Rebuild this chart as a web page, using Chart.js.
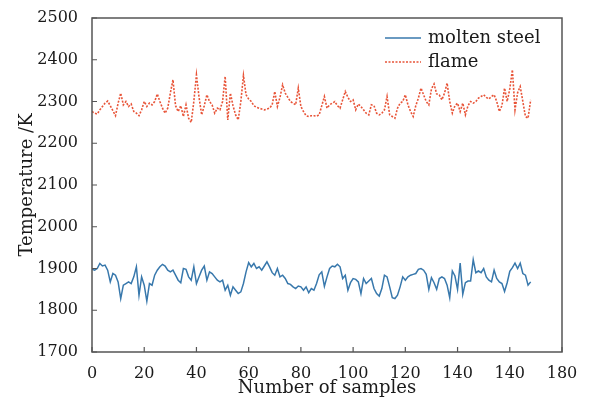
<!DOCTYPE html>
<html>
<head>
<meta charset="utf-8">
<script src="https://cdn.jsdelivr.net/npm/chart.js@4.4.0/dist/chart.umd.min.js"></script>
<style>
  html, body { margin: 0; padding: 0; background: #fff; }
  #wrap { width: 590px; height: 399px; }
</style>
</head>
<body>
<div id="wrap"><canvas id="myChart" width="590" height="399"></canvas></div>
<script>
const xTickLabels = ["0", "20", "40", "60", "80", "100", "120", "140", "140", "180"];

const steel = [
  1898, 1896, 1900, 1912, 1906, 1908, 1896, 1868, 1888, 1884,
  1868, 1828, 1860, 1864, 1868, 1864, 1880, 1904, 1836, 1880,
  1860, 1822, 1864, 1860, 1884, 1896, 1904, 1910, 1906, 1896,
  1892, 1896, 1884, 1872, 1866, 1900, 1898, 1880, 1872, 1904,
  1864, 1880, 1896, 1906, 1872, 1892, 1888, 1880, 1872, 1868,
  1872, 1848, 1860, 1836, 1856, 1848, 1840, 1844, 1864, 1892,
  1914, 1904, 1912, 1900, 1904, 1896, 1906, 1916, 1904, 1890,
  1884, 1900, 1880, 1884, 1876, 1864, 1862, 1856, 1852, 1858,
  1856, 1848, 1856, 1842, 1852, 1848, 1864, 1885, 1892, 1857,
  1880, 1900, 1906, 1904, 1910, 1904, 1876, 1884, 1848, 1866,
  1876, 1874, 1868, 1840, 1876, 1864, 1870, 1876, 1852, 1840,
  1834, 1852, 1884, 1880, 1856, 1830, 1828, 1836, 1856, 1880,
  1872, 1880, 1884, 1886, 1888, 1898, 1900, 1896, 1886, 1850,
  1878, 1866, 1850, 1876, 1880, 1876, 1860, 1830, 1894, 1882,
  1850, 1913, 1838, 1866, 1870, 1870, 1921, 1890, 1894, 1890,
  1900, 1880, 1872, 1868, 1896, 1876, 1868, 1864, 1845, 1866,
  1893, 1902, 1913, 1900, 1913, 1888, 1884, 1860, 1868
];

const flame = [
  2276, 2272, 2270, 2280, 2288, 2296, 2301, 2290, 2278, 2266,
  2296, 2320, 2292, 2300, 2288, 2294, 2276, 2272, 2266, 2280,
  2300, 2288, 2296, 2292, 2300, 2318, 2300, 2284, 2272, 2284,
  2320, 2352, 2290, 2276, 2290, 2264, 2292, 2260, 2250, 2300,
  2364, 2310, 2268, 2290, 2316, 2300, 2292, 2272, 2284, 2280,
  2300, 2360, 2256, 2320, 2290, 2268, 2256, 2300, 2362, 2316,
  2306, 2300, 2290, 2286, 2284, 2282, 2280, 2282, 2284, 2292,
  2324, 2288, 2310, 2340, 2320, 2310, 2300, 2296, 2292, 2332,
  2288, 2276, 2266, 2264, 2266, 2266, 2265, 2268, 2290, 2312,
  2284, 2292, 2296, 2300, 2290, 2284, 2304, 2324, 2310, 2300,
  2304, 2280, 2294, 2288, 2280, 2272, 2268, 2292, 2290, 2272,
  2268, 2272, 2280, 2312, 2268, 2264, 2260, 2284, 2296, 2300,
  2316, 2292, 2276, 2264, 2290, 2308, 2332, 2316, 2300, 2292,
  2330, 2342, 2318, 2316, 2304, 2320, 2344, 2300, 2272, 2290,
  2296, 2276, 2296, 2268, 2290, 2300, 2296, 2300, 2308, 2312,
  2316, 2310, 2306, 2312, 2316, 2300, 2276, 2290, 2332, 2300,
  2330, 2376, 2280, 2321, 2336, 2300, 2264, 2260, 2304
];

const steelColor = "rgb(56, 120, 172)";
const flameColor = "rgb(232, 84, 56)";
const frameColor = "#555";
const textColor = "#1a1a1a";
const serif = "'DejaVu Serif', serif";

function toPoints(values) {
  return values.map((v, i) => ({ x: i, y: v }));
}

// frame box and inward ticks on left/bottom
const framePlugin = {
  id: "frame",
  afterDatasetsDraw(chart) {
    const { ctx, chartArea: a, scales } = chart;
    ctx.save();
    ctx.strokeStyle = frameColor;
    ctx.lineWidth = 1.5;
    ctx.strokeRect(a.left, a.top, a.right - a.left, a.bottom - a.top);
    ctx.lineWidth = 1.2;
    ctx.beginPath();
    scales.x.ticks.forEach((t) => {
      const px = scales.x.getPixelForValue(t.value);
      ctx.moveTo(px, a.bottom);
      ctx.lineTo(px, a.bottom - 5);
    });
    scales.y.ticks.forEach((t) => {
      const py = scales.y.getPixelForValue(t.value);
      ctx.moveTo(a.left, py);
      ctx.lineTo(a.left + 5, py);
    });
    ctx.stroke();
    ctx.restore();
  },
};

// legend drawn inside the plot, top right
const innerLegend = {
  id: "innerLegend",
  afterDraw(chart) {
    const { ctx } = chart;
    ctx.save();
    ctx.font = "18px " + serif;
    ctx.textBaseline = "middle";
    ctx.fillStyle = textColor;
    chart.data.datasets.forEach((ds, i) => {
      const y = 38 + i * 24;
      ctx.strokeStyle = ds.borderColor;
      ctx.lineWidth = ds.borderWidth;
      ctx.setLineDash(ds.borderDash || []);
      ctx.beginPath();
      ctx.moveTo(385, y);
      ctx.lineTo(421, y);
      ctx.stroke();
      ctx.setLineDash([]);
      ctx.fillText(ds.label, 428, y);
    });
    ctx.restore();
  },
};

const ctx = document.getElementById("myChart");

new Chart(ctx, {
  type: "line",
  data: {
    datasets: [
      {
        label: "molten steel",
        data: toPoints(steel),
        borderColor: steelColor,
        borderWidth: 1.5,
        pointRadius: 0,
        tension: 0,
      },
      {
        label: "flame",
        data: toPoints(flame),
        borderColor: flameColor,
        borderWidth: 1.6,
        borderDash: [2, 1.5],
        pointRadius: 0,
        tension: 0,
      },
    ],
  },
  options: {
    responsive: false,
    animation: false,
    layout: { padding: { top: 18, right: 28, left: 0, bottom: 0 } },
    scales: {
      x: {
        type: "linear",
        min: 0,
        max: 180,
        grid: { display: false },
        border: { display: false },
        ticks: {
          stepSize: 20,
          padding: 4,
          maxRotation: 0,
          color: textColor,
          font: { family: serif, size: 16 },
          callback: (value) => xTickLabels[Math.round(value / 20)],
        },
        title: {
          display: true,
          text: "Number of samples",
          color: textColor,
          font: { family: serif, size: 18 },
          padding: { top: 0, bottom: 0 },
        },
        afterFit: (scale) => { scale.height = 47; },
      },
      y: {
        min: 1700,
        max: 2500,
        grid: { display: false },
        border: { display: false },
        ticks: {
          stepSize: 100,
          padding: 6,
          color: textColor,
          font: { family: serif, size: 16 },
          callback: (value) => String(value),
        },
        title: {
          display: true,
          text: "Temperature /K",
          color: textColor,
          font: { family: serif, size: 18 },
          padding: { top: 17, bottom: 0 },
        },
        afterFit: (scale) => { scale.width = 92; },
      },
    },
    plugins: {
      legend: { display: false },
      tooltip: { enabled: false },
    },
  },
  plugins: [framePlugin, innerLegend],
});
</script>
</body>
</html>
